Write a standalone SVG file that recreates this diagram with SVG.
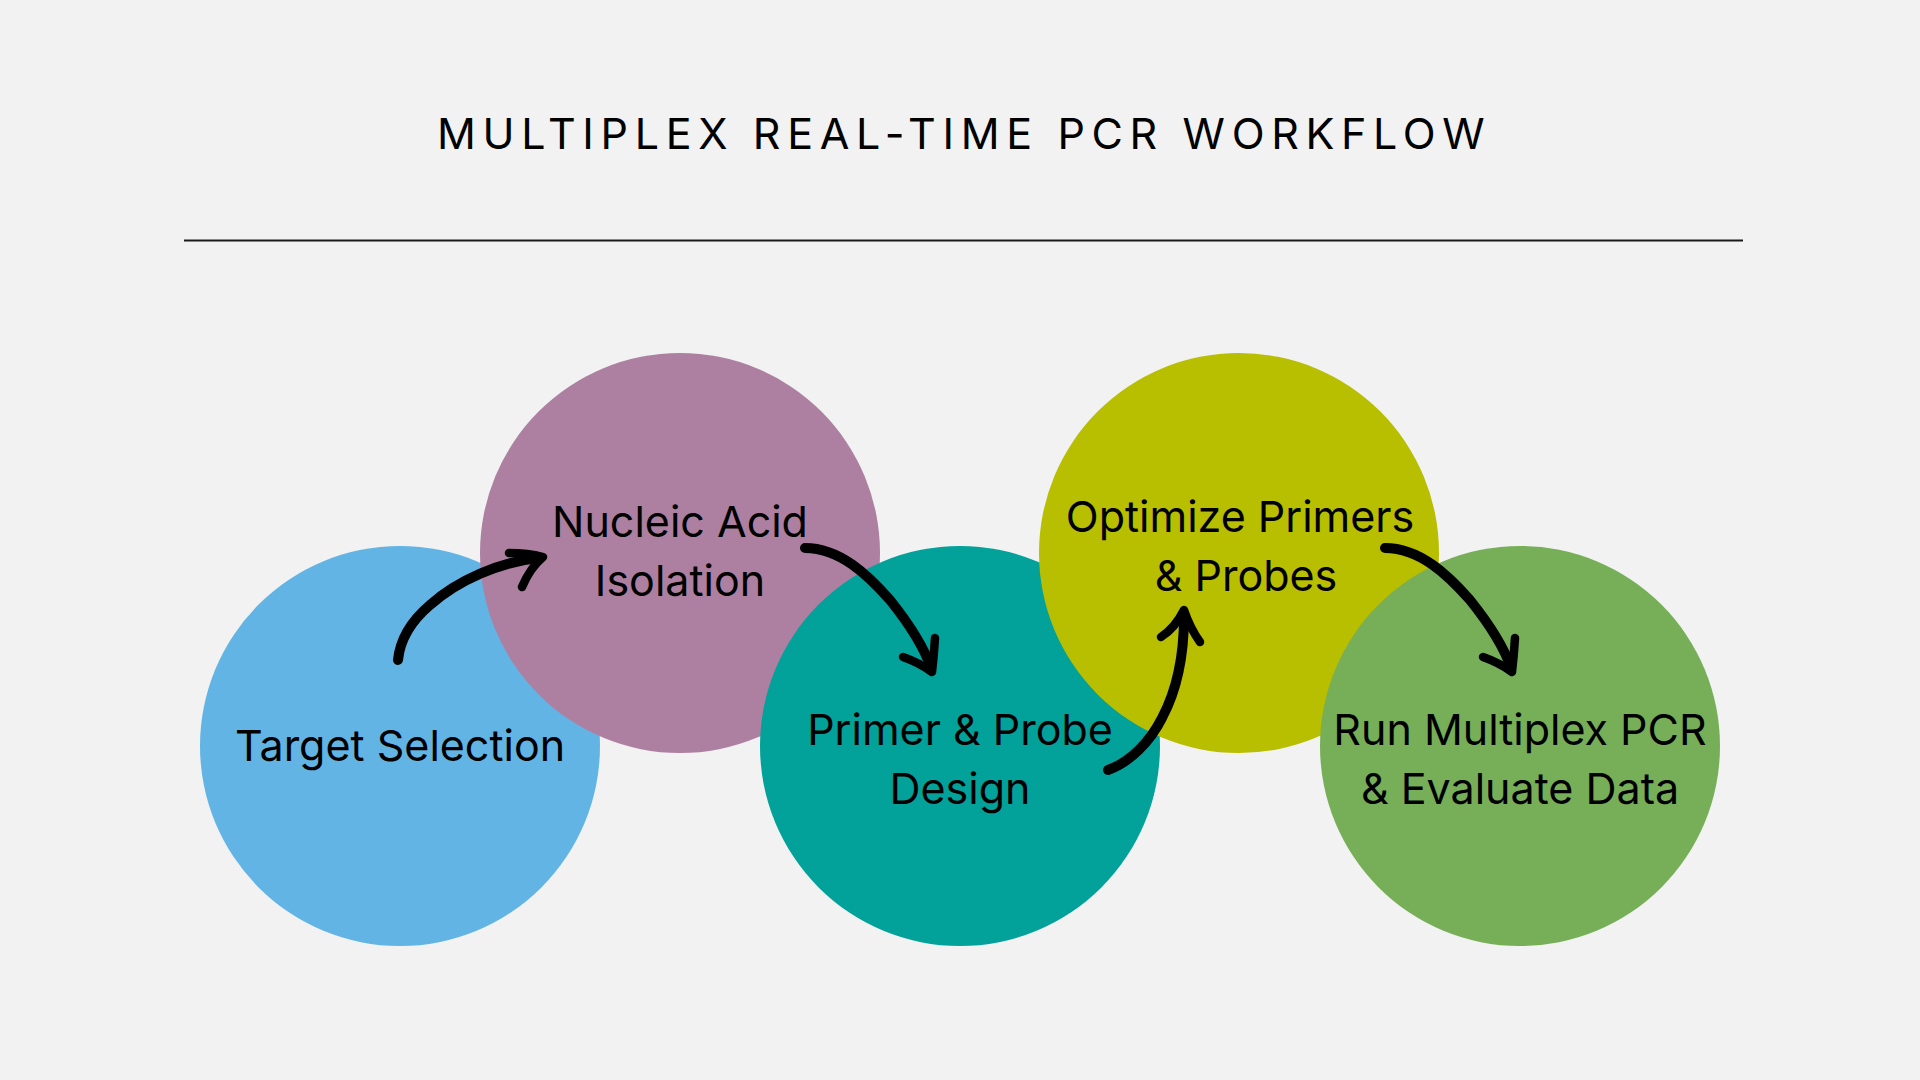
<svg xmlns="http://www.w3.org/2000/svg" width="1920" height="1080" viewBox="0 0 1920 1080">
<style>
.t{font-family:Inter,"Noto Sans","Liberation Sans",sans-serif;font-size:43px;fill:#000;text-anchor:middle}
.title{font-family:Inter,"Noto Sans","Liberation Sans",sans-serif;font-size:43px;fill:#000;letter-spacing:6.65px}
.ar{fill:none;stroke:#000;stroke-width:10;stroke-linecap:round;stroke-linejoin:round}
.hd{fill:none;stroke:#000;stroke-width:8.5;stroke-linecap:round;stroke-linejoin:round}
</style>
<rect width="1920" height="1080" fill="#F2F2F2"/>
<text class="title" x="437" y="149">MULTIPLEX REAL-TIME PCR WORKFLOW</text>
<line x1="184" y1="240.5" x2="1743" y2="240.5" stroke="#1a1a1a" stroke-width="2"/>
<g id="node1"><circle cx="400" cy="746" r="200" fill="#62B4E4"/><text class="t" x="400" y="761">Target Selection</text></g>
<g id="node2"><circle cx="680" cy="553" r="200" fill="#AD80A1"/><text class="t" x="680" y="537">Nucleic Acid</text><text class="t" x="680" y="596">Isolation</text></g>
<g id="node3"><circle cx="960" cy="746" r="200" fill="#02A19A"/><text class="t" x="960" y="745">Primer &amp; Probe</text><text class="t" x="960" y="804">Design</text></g>
<g id="node4"><circle cx="1239" cy="553" r="200" fill="#B8BE00"/><text class="t" x="1240" y="532">Optimize Primers</text><text class="t" x="1246" y="591">&amp; Probes</text></g>
<g id="node5"><circle cx="1520" cy="746" r="200" fill="#76AF57"/><text class="t" x="1520" y="745">Run Multiplex PCR</text><text class="t" x="1520" y="804">&amp; Evaluate Data</text></g>
<g id="connectors">
<path class="ar" d="M398 660 C400 640 410 622 430 605 C458 580 500 562 538 558"/>
<path class="hd" d="M509 553 Q528 553 543 557 Q530 568 522 587"/>
<path class="ar" d="M805 548 C840 548 868 575 890 600 C910 625 925 650 931 668"/>
<path class="hd" d="M903 657 Q920 663 932 672 Q934 655 935 638"/>
<path class="ar" d="M1108 770 C1130 762 1150 742 1162 718 C1178 688 1184 650 1184 616"/>
<path class="hd" d="M1161 637 Q1175 628 1184 610 Q1190 628 1200 642"/>
<path class="ar" d="M1385 548 C1420 548 1448 575 1470 600 C1490 625 1505 650 1511 668"/>
<path class="hd" d="M1483 657 Q1500 663 1512 672 Q1514 655 1515 638"/>
</g>
</svg>
